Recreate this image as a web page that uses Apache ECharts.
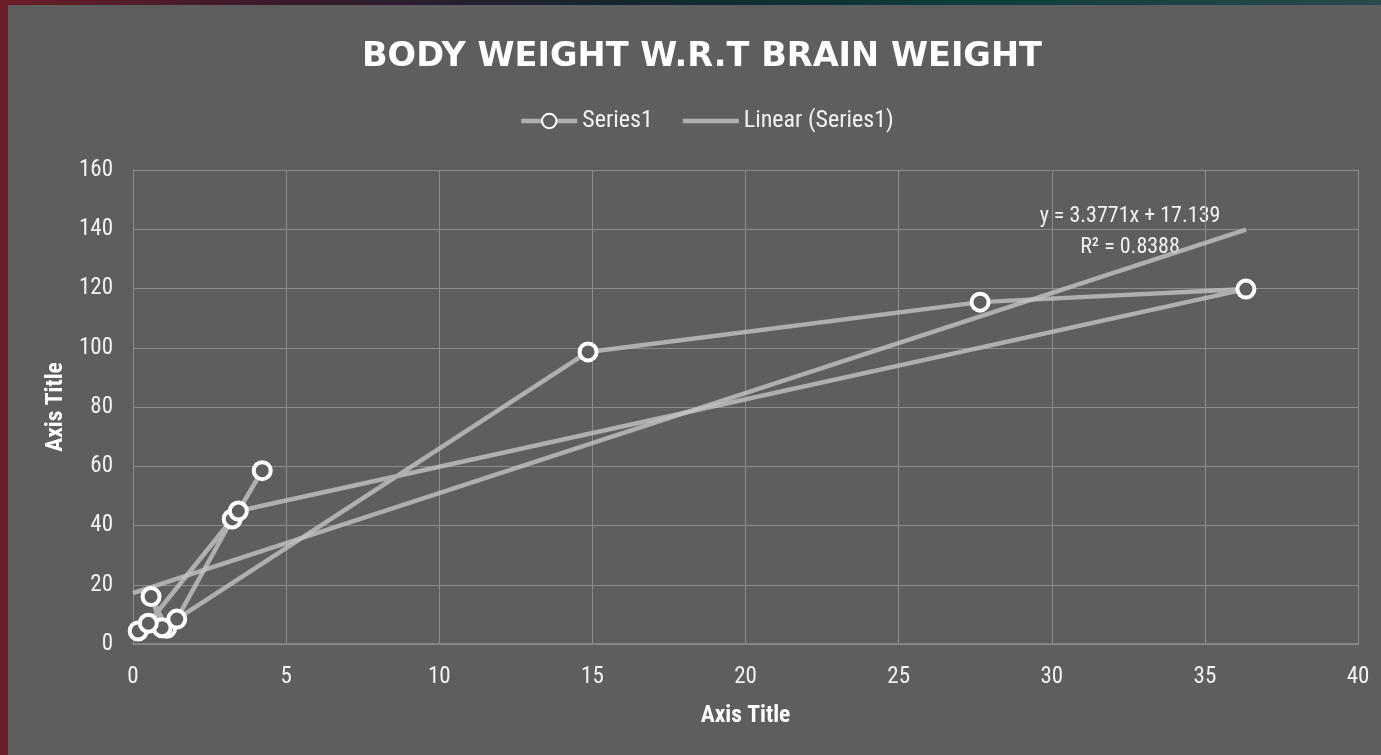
<!DOCTYPE html>
<html>
<head>
<meta charset="utf-8">
<script src="https://cdn.jsdelivr.net/npm/echarts@6/dist/echarts.min.js"></script>
<style>
  html, body { margin: 0; padding: 0; width: 1381px; height: 755px; overflow: hidden; }
  body { background: linear-gradient(90deg, #6a1e28 0%, #3a1a2c 20%, #14262e 45%, #0c3d3c 70%, #2a4a4c 100%); position: relative; }
  #chart { position: absolute; left: 8px; top: 5px; width: 1373px; height: 750px; background: #5e5e5e; }
</style>
</head>
<body>
<div id="chart"></div>
<script>
// body weight (x) vs brain weight (y), in the order the sheet lists them
const bodyWeight = [1.1, 0.59, 0.95, 0.17, 0.5, 3.24, 1.43, 14.86, 27.66, 36.34, 3.44, 4.22];
const brainWeight = [5.3, 16.0, 5.5, 4.4, 7.0, 42.2, 8.4, 98.6, 115.4, 119.8, 44.9, 58.5];

// trendline from the label on the chart
const trendSlope = 3.3771;
const trendIntercept = 17.139;
const trendLabel = ['y = 3.3771x + 17.139', 'R² = 0.8388'];

const chartTitle = 'BODY WEIGHT W.R.T BRAIN WEIGHT';
const xAxisTitle = 'Axis Title';
const yAxisTitle = 'Axis Title';
const xAxisMin = 0;

const font = '"Roboto Condensed", "Liberation Sans Narrow", "Roboto", sans-serif';
const lineColor = 'rgba(195, 195, 195, 0.8)';

const points = bodyWeight.map((x, i) => [x, brainWeight[i]]);
const xMax = Math.max(...bodyWeight);
const trendPoints = [xAxisMin, xMax].map(x => [x, trendSlope * x + trendIntercept]);

const chart = echarts.init(document.getElementById('chart'));

chart.setOption({
  backgroundColor: '#5e5e5e',
  animation: false,
  title: {
    text: chartTitle,
    left: 349,
    top: 30,
    textStyle: {
      color: '#ffffff',
      fontFamily: '"DejaVu Sans", sans-serif',
      fontWeight: 'bold',
      fontSize: 33.6,
    },
  },
  legend: {
    top: 99,
    left: 506,
    itemWidth: 56,
    itemHeight: 18,
    itemGap: 30,
    textStyle: {
      color: '#f2f2f2',
      fontFamily: font,
      fontSize: 24,
    },
    lineStyle: { width: 4.5, color: lineColor },
    data: [
      { name: 'Series1' },
      { name: 'Linear (Series1)', icon: 'path://M0,0h56v4.5h-56z', itemStyle: { color: lineColor } },
    ],
  },
  grid: {
    left: 125,
    right: 23,
    top: 165,
    bottom: 111,
  },
  xAxis: {
    type: 'value',
    min: xAxisMin,
    max: 40,
    interval: 5,
    name: xAxisTitle,
    nameLocation: 'middle',
    nameGap: 60,
    nameTextStyle: {
      color: '#ffffff',
      fontFamily: font,
      fontWeight: 'bold',
      fontSize: 23.5,
    },
    axisLine: { lineStyle: { color: '#8c8c8c', width: 1.5 } },
    axisTick: { show: false },
    axisLabel: {
      color: '#f2f2f2',
      fontFamily: font,
      fontSize: 23,
      margin: 22,
    },
    splitLine: { show: true, lineStyle: { color: '#8c8c8c', width: 1 } },
  },
  yAxis: {
    type: 'value',
    min: 0,
    max: 160,
    interval: 20,
    name: yAxisTitle,
    nameLocation: 'middle',
    nameGap: 53,
    nameTextStyle: {
      color: '#ffffff',
      fontFamily: font,
      fontWeight: 'bold',
      fontSize: 23.5,
    },
    axisLine: { show: true, lineStyle: { color: '#8c8c8c', width: 1 } },
    axisTick: { show: false },
    axisLabel: {
      color: '#f2f2f2',
      fontFamily: font,
      fontSize: 23,
      margin: 20,
    },
    splitLine: { show: true, lineStyle: { color: '#8c8c8c', width: 1 } },
  },
  series: [
    {
      name: 'Series1',
      type: 'line',
      data: points,
      symbol: 'circle',
      symbolSize: 17,
      showSymbol: true,
      lineStyle: { color: lineColor, width: 4.5 },
      itemStyle: {
        color: '#5e5e5e',
        borderColor: '#ffffff',
        borderWidth: 4,
      },
      z: 3,
    },
    {
      name: 'Linear (Series1)',
      type: 'line',
      data: trendPoints,
      symbol: 'none',
      lineStyle: { color: lineColor, width: 4.5 },
      itemStyle: { color: lineColor },
      z: 2,
    },
  ],
  graphic: [
    {
      type: 'text',
      x: 1122,
      y: 196,
      style: {
        text: trendLabel.join('\n'),
        fill: '#f2f2f2',
        font: '22px ' + font,
        lineHeight: 31,
        align: 'center',
      },
    },
  ],
});
</script>
</body>
</html>
